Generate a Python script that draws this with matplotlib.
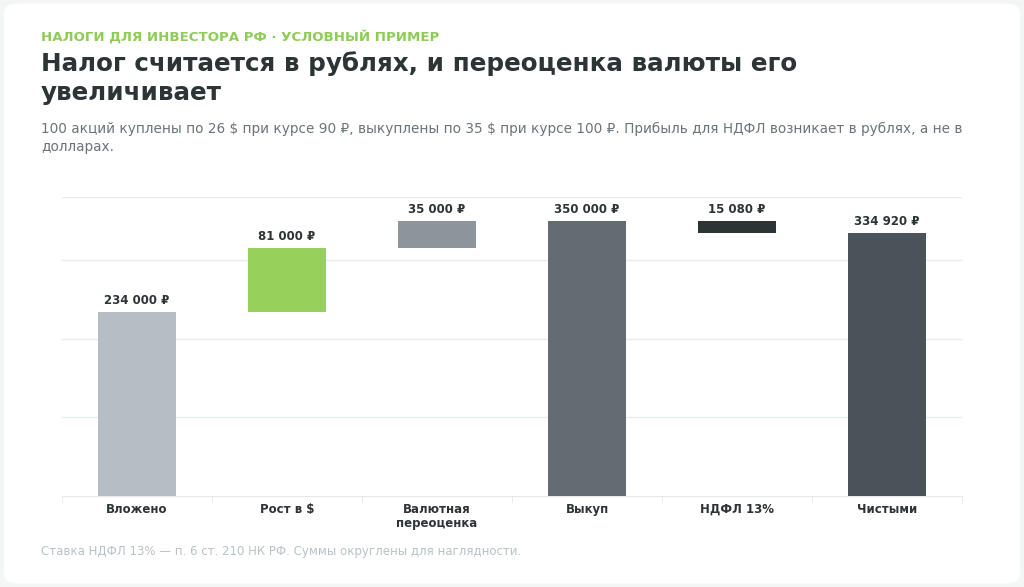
import matplotlib.pyplot as plt
from matplotlib.patches import FancyBboxPatch
import numpy as np

plt.rcParams["text.parse_math"] = False
plt.rcParams["font.family"] = "DejaVu Sans"

categories = ["Вложено", "Рост в $", "Валютная\nпереоценка", "Выкуп", "НДФЛ 13%", "Чистыми"]
values = [234000, 81000, 35000, 350000, -15080, 334920]
is_total = [True, False, False, True, False, True]
labels = ["234 000 ₽", "81 000 ₽", "35 000 ₽", "350 000 ₽", "15 080 ₽", "334 920 ₽"]
colors = ["#b4bec4", "#97d05a", "#8d949b", "#636d71", "#2d3436", "#4b535a"]

# waterfall bottoms / heights
bottoms, heights = [], []
running = 0
for v, tot in zip(values, is_total):
    if tot:
        bottoms.append(0)
        heights.append(v)
        running = v
    else:
        if v >= 0:
            bottoms.append(running)
            heights.append(v)
        else:
            bottoms.append(running + v)
            heights.append(-v)
        running += v

fig = plt.figure(figsize=(10.24, 5.87), dpi=100)
fig.patch.set_facecolor("#f4f5f5")
card = FancyBboxPatch((0.004, 0.006), 0.992, 0.988, boxstyle="round,pad=0,rounding_size=0.015",
                      transform=fig.transFigure, facecolor="white", edgecolor="none", zorder=-5)
fig.patches.append(card)

ax = fig.add_axes([0.0605, 0.155, 0.879, 0.509], zorder=2)
ax.set_facecolor("none")
x = np.arange(len(categories))
ax.bar(x, heights, bottom=bottoms, width=0.52, color=colors, zorder=3)

for xi, b, h, lab in zip(x, bottoms, heights, labels):
    ax.annotate(lab, (xi, b + h), xytext=(0, 3.5), textcoords="offset points",
                ha="center", va="bottom", fontsize=8.5, fontweight="bold", color="#2d3436")

ax.set_xlim(-0.5, 5.5)
ax.set_ylim(0, 380000)
ax.set_yticks([100000, 200000, 300000, 380000])
ax.yaxis.grid(True, color="#e8ecec", linewidth=1)
ax.tick_params(axis="y", length=0, labelleft=False)
ax.set_axisbelow(True)
for s in ["top", "right", "left"]:
    ax.spines[s].set_visible(False)
ax.spines["bottom"].set_color("#e3e8e8")

ax.set_xticks(np.arange(-0.5, 6, 1), minor=True)
ax.tick_params(axis="x", which="minor", length=5, color="#e3e8e8", labelbottom=False)
ax.set_xticks(x)
ax.set_xticklabels(categories, fontsize=8.5, fontweight="bold", color="#2d3436", linespacing=1.1)
ax.tick_params(axis="x", which="major", length=0, pad=5)

fig.text(0.04, 0.937, "НАЛОГИ ДЛЯ ИНВЕСТОРА РФ · УСЛОВНЫЙ ПРИМЕР", fontsize=9.6,
         fontweight="bold", color="#8fcc55", va="center")
fig.text(0.04, 0.912, "Налог считается в рублях, и переоценка валюты его\nувеличивает",
         fontsize=17.75, fontweight="bold", color="#2d3436", va="top", linespacing=1.22)
fig.text(0.04, 0.793, "100 акций куплены по 26 $ при курсе 90 ₽, выкуплены по 35 $ при курсе 100 ₽. "
         "Прибыль для НДФЛ возникает в рублях, а не в\nдолларах.",
         fontsize=9.85, color="#6b7478", va="top", linespacing=1.4)
fig.text(0.04, 0.061, "Ставка НДФЛ 13% — п. 6 ст. 210 НК РФ. Суммы округлены для наглядности.",
         fontsize=8.5, color="#b8c2c6", va="center")

fig.savefig("out.png", dpi=100, facecolor=fig.get_facecolor())
